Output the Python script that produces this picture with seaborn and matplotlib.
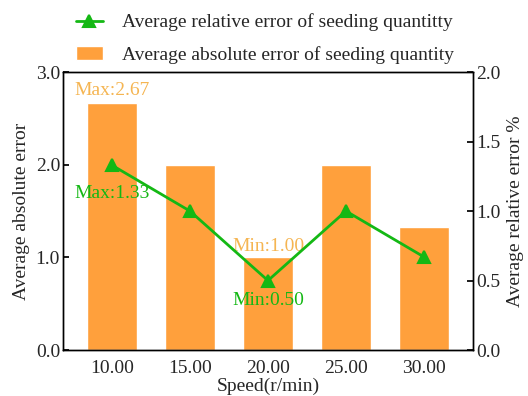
import matplotlib
matplotlib.use("Agg")
import matplotlib.pyplot as plt
import seaborn as sns
import pandas as pd

speeds = ["10.00", "15.00", "20.00", "25.00", "30.00"]
abs_error = [2.67, 2.00, 1.00, 2.00, 1.33]
rel_error = [1.33, 1.00, 0.50, 1.00, 0.67]

BAR_COLOR = "#FFA03C"
LINE_COLOR = "#14B814"
FS = 14

sns.set_theme(style="ticks")
plt.rcParams["font.family"] = ["Liberation Serif", "DejaVu Serif"]
plt.rcParams["font.size"] = FS
plt.rcParams["xtick.direction"] = "in"
plt.rcParams["ytick.direction"] = "in"

df = pd.DataFrame({"speed": speeds, "abs": abs_error, "rel": rel_error})

fig = plt.figure(figsize=(5.28, 3.96), dpi=100)
ax = fig.add_axes([0.119, 0.116, 0.777, 0.702])

sns.barplot(data=df, x="speed", y="abs", color=BAR_COLOR, saturation=1,
            width=0.65, ax=ax, label="Average absolute error of seeding quantity")
ax.set_ylim(0, 3)
ax.set_yticks([0, 1, 2, 3])
ax.set_yticklabels(["0.0", "1.0", "2.0", "3.0"], fontsize=FS)
ax.set_xlim(-0.63, 4.63)
ax.set_xlabel("Speed(r/min)", fontsize=FS, labelpad=1)
ax.set_ylabel("Average absolute error", fontsize=FS, labelpad=4)
ax.tick_params(axis="x", labelsize=FS, length=4, color="black", pad=7)
ax.tick_params(axis="y", length=4, color="black", pad=2)

ax2 = ax.twinx()
sns.pointplot(data=df, x="speed", y="rel", color=LINE_COLOR, markers="^",
              linestyles="-", ax=ax2, label="Average relative error of seeding quantitty",
              markersize=8, linewidth=2)
ax2.set_ylim(0, 2)
ax2.set_yticks([0, 0.5, 1, 1.5, 2])
ax2.set_yticklabels(["0.0", "0.5", "1.0", "1.5", "2.0"], fontsize=FS)
ax2.set_ylabel("Average relative error %", fontsize=FS, labelpad=5)
ax2.tick_params(axis="y", length=4, color="black", pad=2)
ax2.set_xlim(-0.63, 4.63)

for a in (ax, ax2):
    for s in a.spines.values():
        s.set_color("black")
        s.set_linewidth(1)

# annotations
ax.text(0, abs_error[0] + 0.04, "Max:2.67", color="#F5B552", ha="center", va="bottom", fontsize=FS)
ax.text(2, abs_error[2] + 0.03, "Min:1.00", color="#F5B552", ha="center", va="bottom", fontsize=FS)
ax2.text(0, rel_error[0] - 0.14, "Max:1.33", color=LINE_COLOR, ha="center", va="top", fontsize=FS)
ax2.text(2, rel_error[2] - 0.08, "Min:0.50", color=LINE_COLOR, ha="center", va="top", fontsize=FS)

h1, l1 = ax.get_legend_handles_labels()
h2, l2 = ax2.get_legend_handles_labels()
if ax.get_legend():
    ax.get_legend().remove()
if ax2.get_legend():
    ax2.get_legend().remove()
fig.legend(h2 + h1, l2 + l1, loc="upper left", bbox_to_anchor=(0.11, 1.01),
           frameon=False, fontsize=FS, labelspacing=0.75, handlelength=1.4,
           handletextpad=1.0)

fig.savefig("out.png", dpi=100)
